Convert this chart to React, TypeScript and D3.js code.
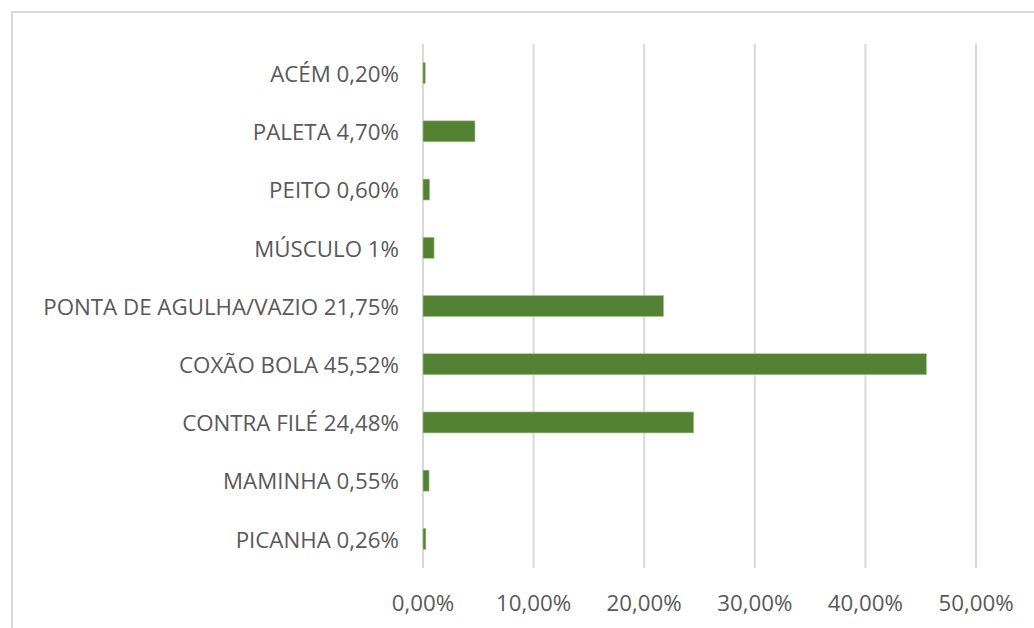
import React from "react";
import * as d3 from "d3";

const categories = [
  "ACÉM 0,20%",
  "PALETA 4,70%",
  "PEITO 0,60%",
  "MÚSCULO 1%",
  "PONTA DE AGULHA/VAZIO 21,75%",
  "COXÃO BOLA 45,52%",
  "CONTRA FILÉ 24,48%",
  "MAMINHA 0,55%",
  "PICANHA 0,26%",
];
const values = [0.2, 4.7, 0.6, 1, 21.75, 45.52, 24.48, 0.55, 0.26];
const ticks = [0, 10, 20, 30, 40, 50];
const tickLabels = ["0,00%", "10,00%", "20,00%", "30,00%", "40,00%", "50,00%"];

export default function App() {
  const W = 1034, H = 628;
  const left = 423, right = 976, top = 44, bottom = 568;
  const x = d3.scaleLinear().domain([0, 50]).range([left, right]);
  const y = d3.scaleBand().domain(categories).range([top, bottom]).paddingInner(0.64).paddingOuter(0.32);
  const font = "'Open Sans', 'Segoe UI', sans-serif";
  const fs = 22.3;
  return (
    <svg width={W} height={H} style={{ position: "absolute", left: 0, top: 0, background: "#fff" }}>
      <rect x={12} y={12} width={W + 10} height={H + 10} fill="#fff" stroke="#d9d9d9" strokeWidth={2} />
      {ticks.map((t) => (
        <line key={t} x1={x(t)} x2={x(t)} y1={top} y2={bottom} stroke="#d9d9d9" strokeWidth={2} />
      ))}
      {categories.map((c, i) => (
        <rect key={c} x={x(0)} y={y(c)!} width={x(values[i]) - x(0)} height={y.bandwidth()}
          fill="#548235" stroke="#a9c58f" strokeWidth={0.6} />
      ))}
      {categories.map((c) => (
        <text key={c} x={left - 24} y={y(c)! + y.bandwidth() / 2 + 1} dy="0.35em" textAnchor="end"
          fontFamily={font} fontSize={fs} fill="#595959">{c}</text>
      ))}
      {ticks.map((t, i) => (
        <text key={t} x={x(t)} y={603} dy="0.35em" textAnchor="middle"
          fontFamily={font} fontSize={fs} fill="#595959">{tickLabels[i]}</text>
      ))}
    </svg>
  );
}
